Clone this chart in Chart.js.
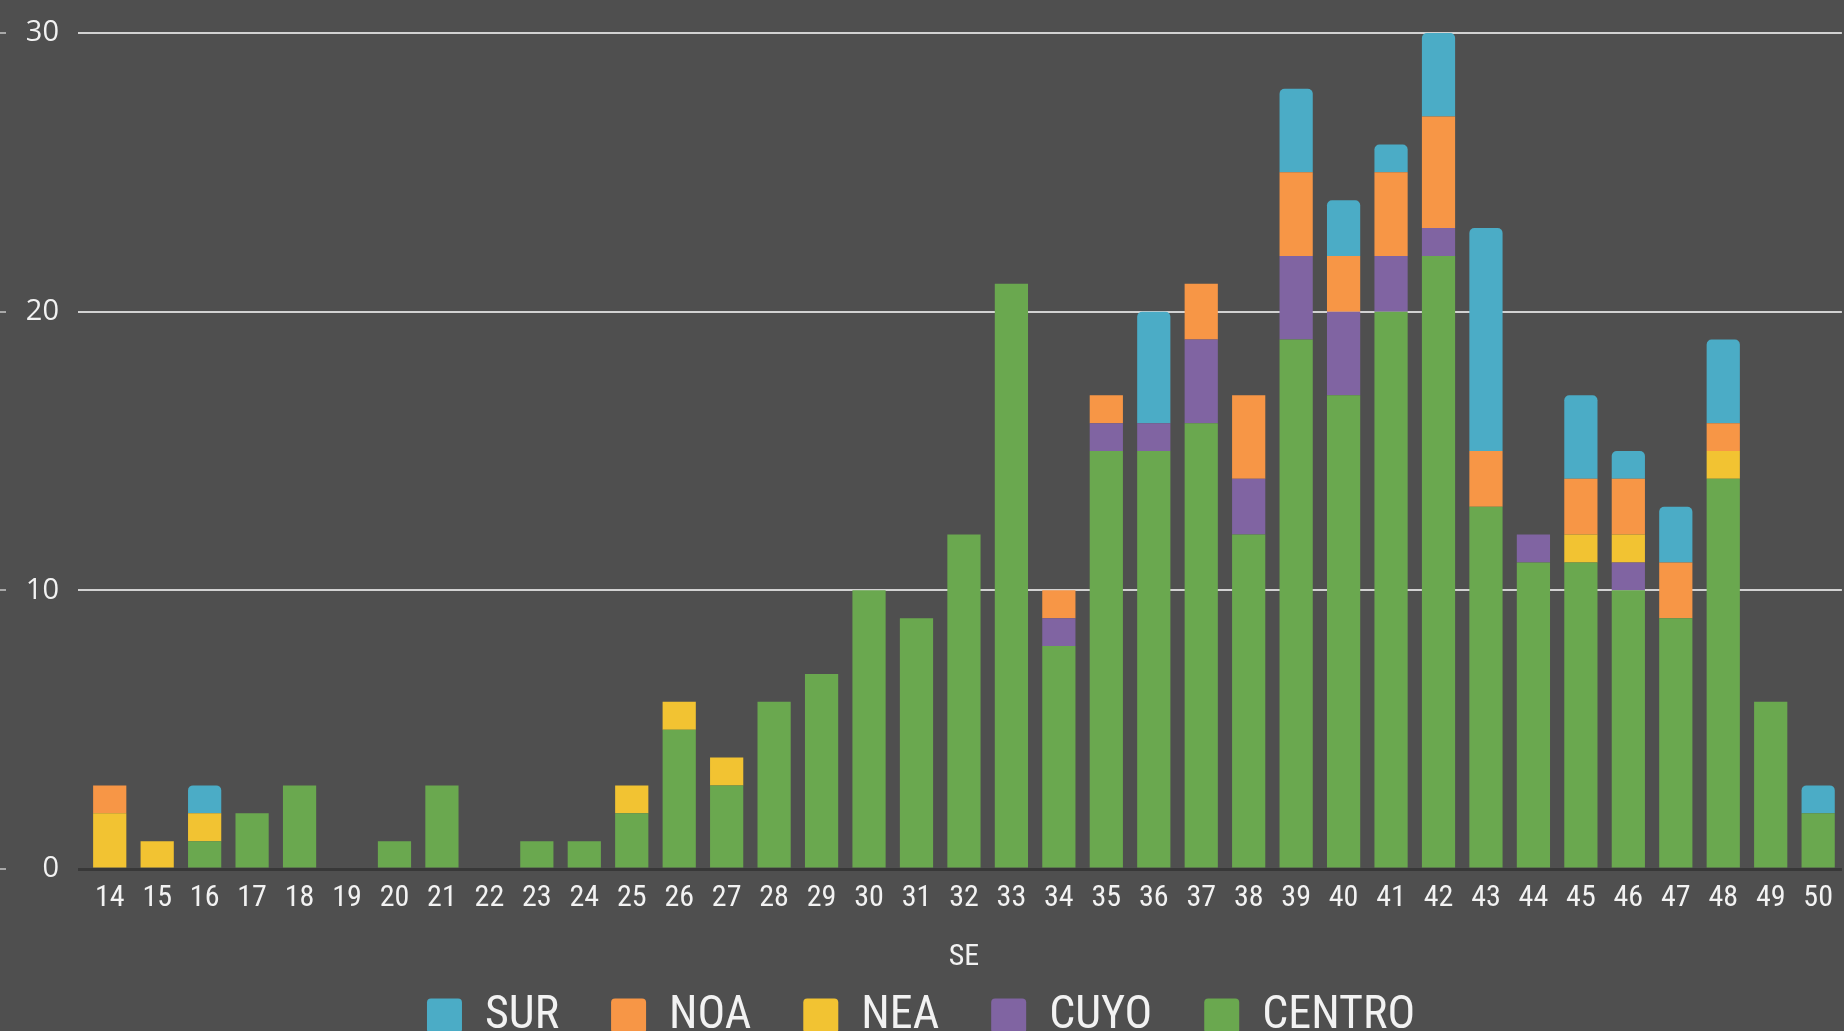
<!DOCTYPE html>
<html>
<head>
<meta charset="utf-8">
<script src="https://cdn.jsdelivr.net/npm/chart.js@4.4.1/dist/chart.umd.min.js"></script>
<style>
  html, body { margin: 0; padding: 0; background: #4f4f4f; overflow: hidden; }
  #wrap { width: 1844px; height: 1049px; }
</style>
</head>
<body>
<div id="wrap"><canvas id="chart"></canvas></div>
<script>
const weeks = ['14', '15', '16', '17', '18', '19', '20', '21', '22', '23', '24', '25', '26', '27', '28', '29', '30', '31', '32',
  '33', '34', '35', '36', '37', '38', '39', '40', '41', '42', '43', '44', '45', '46', '47', '48', '49', '50'];

// stacked bottom to top: CENTRO, CUYO, NEA, NOA, SUR
const centro = [0, 0, 1, 2, 3, 0, 1, 3, 0, 1, 1, 2, 5, 3, 6, 7, 10, 9, 12,
  21, 8, 15, 15, 16, 12, 19, 17, 20, 22, 13, 11, 11, 10, 9, 14, 6, 2];
const cuyo = [0, 0, 0, 0, 0, 0, 0, 0, 0, 0, 0, 0, 0, 0, 0, 0, 0, 0, 0,
  0, 1, 1, 1, 3, 2, 3, 3, 2, 1, 0, 1, 0, 1, 0, 0, 0, 0];
const nea = [2, 1, 1, 0, 0, 0, 0, 0, 0, 0, 0, 1, 1, 1, 0, 0, 0, 0, 0,
  0, 0, 0, 0, 0, 0, 0, 0, 0, 0, 0, 0, 1, 1, 0, 1, 0, 0];
const noa = [1, 0, 0, 0, 0, 0, 0, 0, 0, 0, 0, 0, 0, 0, 0, 0, 0, 0, 0,
  0, 1, 1, 0, 2, 3, 3, 2, 3, 4, 2, 0, 2, 2, 2, 1, 0, 0];
const sur = [0, 0, 1, 0, 0, 0, 0, 0, 0, 0, 0, 0, 0, 0, 0, 0, 0, 0, 0,
  0, 0, 0, 4, 0, 0, 3, 2, 1, 3, 8, 0, 3, 1, 2, 3, 0, 1];

const yTicks = [0, 10, 20, 30];

const colors = {
  sur: '#4bacc6',
  noa: '#f79646',
  nea: '#f2c332',
  cuyo: '#8064a2',
  centro: '#6aa84f',
};

const textColor = '#f2f2f2';
const narrow = '"Roboto Condensed", "DejaVu Sans Condensed", sans-serif';

// small tick marks at the far left edge, one per y tick
const leftTicks = {
  id: 'leftTicks',
  afterDraw(chart) {
    const y = chart.scales.y;
    const ctx = chart.ctx;
    ctx.save();
    ctx.strokeStyle = '#a8a8a8';
    ctx.lineWidth = 2;
    y.ticks.forEach((t) => {
      const py = Math.round(y.getPixelForValue(t.value));
      ctx.beginPath();
      ctx.moveTo(0, py);
      ctx.lineTo(6, py);
      ctx.stroke();
    });
    ctx.restore();
  },
};

function makeSet(label, data, color, rounded) {
  return {
    label,
    data,
    backgroundColor: color,
    borderWidth: 0,
    borderRadius: rounded ? { topLeft: 5, topRight: 5, bottomLeft: 0, bottomRight: 0 } : 0,
    barPercentage: 0.7,
    categoryPercentage: 1,
  };
}

new Chart(document.getElementById('chart'), {
  type: 'bar',
  data: {
    labels: weeks,
    datasets: [
      makeSet('CENTRO', centro, colors.centro, false),
      makeSet('CUYO', cuyo, colors.cuyo, false),
      makeSet('NEA', nea, colors.nea, false),
      makeSet('NOA', noa, colors.noa, false),
      makeSet('SUR', sur, colors.sur, true),
    ],
  },
  options: {
    responsive: true,
    maintainAspectRatio: false,
    animation: false,
    devicePixelRatio: 1,
    layout: { padding: { left: 0, right: 2, top: 33, bottom: 0 } },
    scales: {
      x: {
        stacked: true,
        grid: { display: false, drawTicks: false },
        border: { display: false },
        ticks: {
          color: textColor,
          font: { family: narrow, size: 30 },
          padding: 11,
          maxRotation: 0,
          autoSkip: false,
        },
        title: {
          display: true,
          text: 'SE',
          color: textColor,
          font: { family: narrow, size: 30 },
          padding: { top: 12, bottom: -34 },
        },
      },
      y: {
        stacked: true,
        min: 0,
        max: 30,
        afterBuildTicks: (scale) => {
          scale.ticks = yTicks.map((v) => ({ value: v }));
        },
        afterFit: (scale) => {
          scale.width = 86;
          scale.paddingTop = 0;
          scale.paddingBottom = 0;
        },
        border: { display: false },
        grid: {
          color: (ctx) => (ctx.tick && ctx.tick.value === 0 ? '#383838' : '#d2d2d2'),
          lineWidth: (ctx) => (ctx.tick && ctx.tick.value === 0 ? 3 : 2),
          tickLength: 8,
        },
        ticks: {
          color: textColor,
          font: { family: '"Open Sans", sans-serif', size: 29 },
          padding: 19,
        },
      },
    },
    plugins: {
      legend: {
        position: 'bottom',
        reverse: true,
        labels: {
          color: textColor,
          font: { family: narrow, size: 46 },
          boxWidth: 35,
          boxHeight: 35,
          padding: 52,
          useBorderRadius: true,
          borderRadius: 4,
        },
      },
      tooltip: { enabled: false },
    },
  },
  plugins: [leftTicks],
});
</script>
</body>
</html>
